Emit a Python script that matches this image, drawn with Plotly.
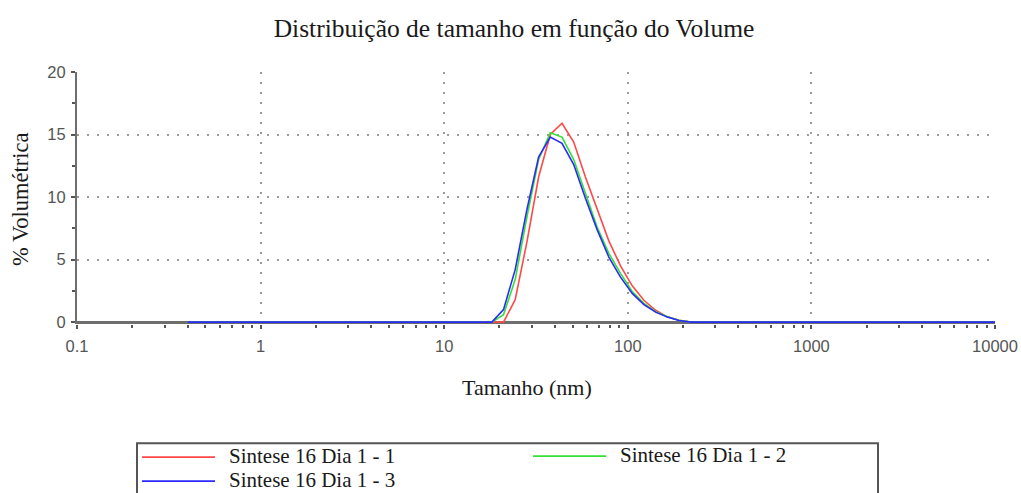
import plotly.graph_objects as go

# Size bins (nm)
tamanho = [0.4, 0.4632, 0.5365, 0.6213, 0.7195, 0.8332, 0.9649, 1.117, 1.294, 1.499,
           1.736, 2.01, 2.328, 2.696, 3.122, 3.615, 4.187, 4.849, 5.615, 6.503,
           7.531, 8.721, 10.1, 11.7, 13.54, 15.69, 18.17, 21.04, 24.36, 28.21,
           32.67, 37.84, 43.82, 50.75, 58.77, 68.06, 78.82, 91.28, 105.7, 122.4,
           141.8, 164.2, 190.1, 220.2, 255.0, 295.3, 342.0, 396.1, 458.7, 531.2,
           615.1, 712.4, 825.0, 955.4, 1106, 1281, 1484, 1718, 1990, 2305,
           2669, 3091, 3580, 4145, 4801, 5560, 6439, 7456, 8635, 10000]

# % volume values
sintese_1 = [0, 0, 0, 0, 0, 0, 0, 0, 0, 0,
             0, 0, 0, 0, 0, 0, 0, 0, 0, 0,
             0, 0, 0, 0, 0, 0, 0, 0, 1.8, 6.4,
             11.6, 15.0, 15.9, 14.4, 11.6, 9.0, 6.5, 4.5, 2.9, 1.75,
             0.95, 0.42, 0.15, 0, 0, 0, 0, 0, 0, 0,
             0, 0, 0, 0, 0, 0, 0, 0, 0, 0,
             0, 0, 0, 0, 0, 0, 0, 0, 0, 0]
sintese_2 = [0, 0, 0, 0, 0, 0, 0, 0, 0, 0,
             0, 0, 0, 0, 0, 0, 0, 0, 0, 0,
             0, 0, 0, 0, 0, 0, 0, 0.6, 3.4, 8.4,
             13.0, 15.15, 14.8, 13.0, 10.3, 7.6, 5.5, 3.9, 2.45, 1.5,
             0.83, 0.43, 0.15, 0, 0, 0, 0, 0, 0, 0,
             0, 0, 0, 0, 0, 0, 0, 0, 0, 0,
             0, 0, 0, 0, 0, 0, 0, 0, 0, 0]
sintese_3 = [0, 0, 0, 0, 0, 0, 0, 0, 0, 0,
             0, 0, 0, 0, 0, 0, 0, 0, 0, 0,
             0, 0, 0, 0, 0, 0, 0, 1.0, 4.2, 9.0,
             13.2, 14.8, 14.3, 12.6, 9.9, 7.4, 5.2, 3.6, 2.3, 1.4,
             0.8, 0.4, 0.13, 0, 0, 0, 0, 0, 0, 0,
             0, 0, 0, 0, 0, 0, 0, 0, 0, 0,
             0, 0, 0, 0, 0, 0, 0, 0, 0, 0]

series_names = ["Sintese 16 Dia 1 - 1", "Sintese 16 Dia 1 - 2", "Sintese 16 Dia 1 - 3"]
series_values = [sintese_1, sintese_2, sintese_3]
series_colors = ["#ff4848", "#33e033", "#2a2aff"]

x_tickvals = [0.1, 1, 10, 100, 1000, 10000]
x_ticktext = ["0.1", "1", "10", "100", "1000", "10000"]
y_tickvals = [0, 5, 10, 15, 20]

SERIF = "Liberation Serif, Times New Roman, serif"
SANS = "Liberation Sans, Arial, sans-serif"

fig = go.Figure()
for name, vals, col in zip(series_names, series_values, series_colors):
    fig.add_trace(go.Scatter(x=tamanho, y=vals, mode="lines", name=name,
                             showlegend=False,
                             line=dict(color=col, width=1.6)))

W, H = 1021, 493
L, R, T = 77, 26, 72
ymin, ymax = -0.15, 20
plot_h = 250 * (ymax - ymin) / 20
B = H - T - plot_h
bottom_px = T + plot_h
plot_w = W - L - R


def px_x(px):
    return (px - L) / plot_w


def px_y(py):
    return (bottom_px - py) / plot_h


fig.update_layout(
    width=W, height=H,
    margin=dict(l=L, r=R, t=T, b=B, autoexpand=False),
    paper_bgcolor="white", plot_bgcolor="white",
    title=dict(text="Distribuição de tamanho em função do Volume",
               x=514 / W, xanchor="center", xref="container",
               y=1 - 28 / H, yanchor="middle", yref="container",
               font=dict(family=SERIF, size=25.5, color="#1a1a1a")),
    showlegend=False,
)

fig.update_xaxes(
    type="log", range=[-1, 4],
    tickvals=x_tickvals, ticktext=x_ticktext,
    tickfont=dict(family=SANS, size=16.5, color="#555555"),
    ticks="outside", ticklen=4, tickwidth=1.5, tickcolor="#555555",
    ticklabelstandoff=3,
    showline=False,
    showgrid=True, gridcolor="#9a9a9a", gridwidth=1.5, griddash="2px,8px",
    minor=dict(ticks="outside", ticklen=3, tickwidth=1.5, tickcolor="#555555",
               dtick="D1", showgrid=False),
    zeroline=False,
)
fig.update_yaxes(
    range=[ymin, ymax],
    tickvals=y_tickvals,
    tickfont=dict(family=SANS, size=16.5, color="#555555"),
    ticks="outside", ticklen=4, tickwidth=1.5, tickcolor="#555555",
    ticklabelstandoff=2,
    showline=True, linecolor="#6e6e6e", linewidth=2,
    showgrid=True, gridcolor="#9a9a9a", gridwidth=1.5, griddash="2px,8px",
    minor=dict(ticks="outside", ticklen=3, tickwidth=1.5, tickcolor="#555555",
               dtick=2.5, showgrid=False),
    zeroline=True, zerolinecolor="#6e6e6e", zerolinewidth=2.5,
)

fig.add_annotation(text="% Volumétrica", textangle=-90,
                   xref="paper", yref="paper", x=px_x(20), y=px_y(199),
                   xanchor="center", yanchor="middle", showarrow=False,
                   font=dict(family=SERIF, size=22.5, color="#1a1a1a"))
fig.add_annotation(text="Tamanho (nm)",
                   xref="paper", yref="paper", x=px_x(527), y=px_y(387),
                   xanchor="center", yanchor="middle", showarrow=False,
                   font=dict(family=SERIF, size=22, color="#1a1a1a"))

# Legend: frame (runs off the bottom of the page as in the original),
# line samples and labels
fig.add_shape(type="rect", xref="paper", yref="paper",
              x0=px_x(137), x1=px_x(878), y0=px_y(443), y1=px_y(520),
              line=dict(color="#555555", width=2), fillcolor="rgba(0,0,0,0)",
              layer="below")
legend_slots = [(142, 457), (533, 456), (142, 481)]  # (line start px, row px)
for name, col, (lx, ly) in zip(series_names, series_colors, legend_slots):
    fig.add_shape(type="line", xref="paper", yref="paper",
                  x0=px_x(lx), x1=px_x(lx + 73), y0=px_y(ly), y1=px_y(ly),
                  line=dict(color=col, width=1.8))
    fig.add_annotation(text=name, xref="paper", yref="paper",
                       x=px_x(lx + 85), y=px_y(ly - 1),
                       xanchor="left", yanchor="middle", showarrow=False,
                       font=dict(family=SERIF, size=21, color="#1a1a1a"))

fig.write_html("out.html")
